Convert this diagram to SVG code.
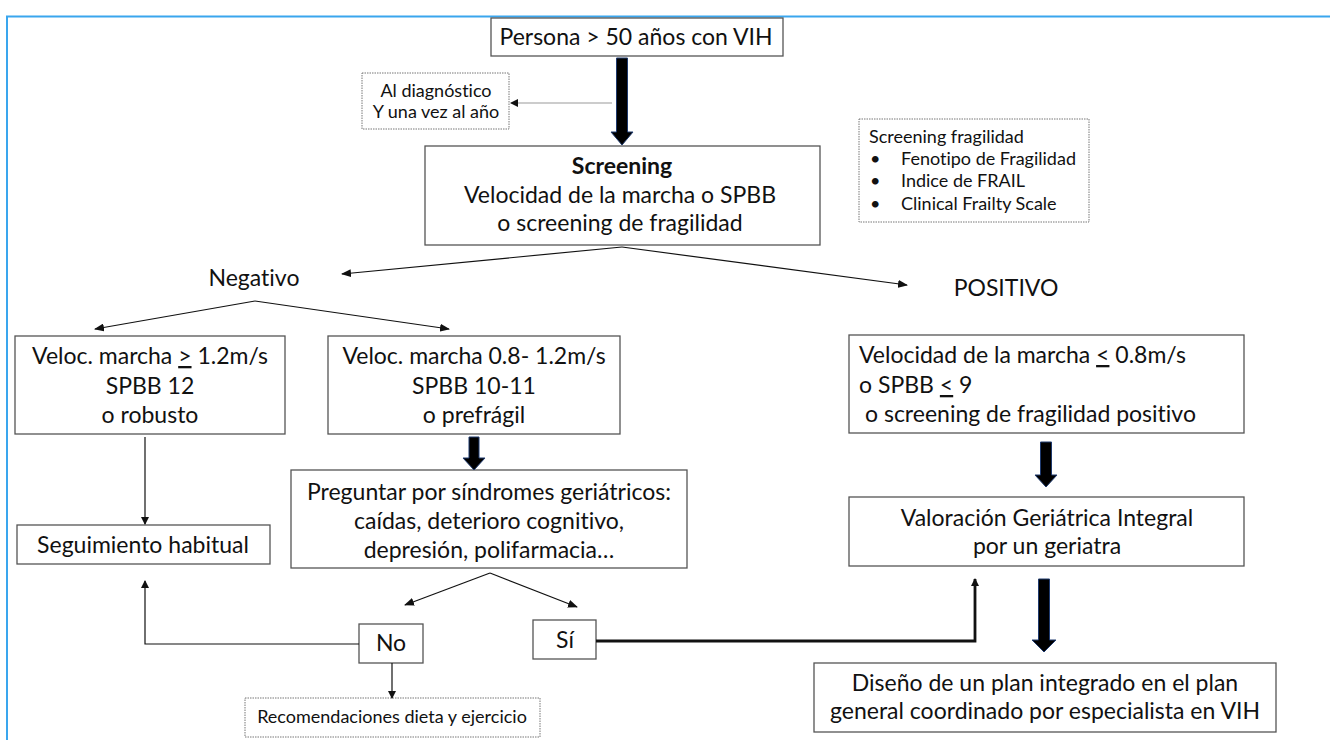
<svg xmlns="http://www.w3.org/2000/svg" width="1330" height="740" viewBox="0 0 1330 740">
<style>
  .box { fill: #ffffff; stroke: #555555; stroke-width: 1.3; }
  .dot { fill: #ffffff; stroke: #777777; stroke-width: 1; stroke-dasharray: 1.5 1; }
  .t { font-family: Lato, "Liberation Sans", sans-serif; font-size: 23px; fill: #111111; font-variant-ligatures: none; }
  .s { font-family: Lato, "Liberation Sans", sans-serif; font-size: 18px; fill: #111111; font-variant-ligatures: none; }
  .c { text-anchor: middle; }
  .b { font-weight: bold; }
  .ln { fill: none; stroke: #111111; stroke-width: 1.2; }
  .thick { fill: #000000; stroke: #1f3a6e; stroke-width: 1; }
</style>
<defs>
  <marker id="ah" markerWidth="10" markerHeight="8" refX="9" refY="4" orient="auto" markerUnits="userSpaceOnUse">
    <path d="M0,0 L10,4 L0,8 Z" fill="#111111"/>
  </marker>
  <marker id="ahs" markerWidth="8" markerHeight="8" refX="7" refY="4" orient="auto" markerUnits="userSpaceOnUse">
    <path d="M0,0 L8,4 L0,8 Z" fill="#111111"/>
  </marker>
</defs>
<rect x="0" y="0" width="1330" height="740" fill="#ffffff"/>
<path d="M7 740 V16.5 H1330" fill="none" stroke="#3aa6ee" stroke-width="2"/>

<g id="n-persona">
  <rect class="box" x="491" y="18" width="292" height="38"/>
  <text class="t c" x="636" y="45">Persona &gt; 50 años con VIH</text>
</g>
<g id="n-aldiag">
  <rect class="dot" x="362" y="73" width="147" height="56"/>
  <text class="s c" x="436" y="97">Al diagnóstico</text>
  <text class="s c" x="436" y="118">Y una vez al año</text>
</g>
<g id="n-screening">
  <rect class="box" x="425" y="146" width="395" height="99"/>
  <text class="t c b" x="622" y="174">Screening</text>
  <text class="t c" x="620" y="203">Velocidad de la marcha o SPBB</text>
  <text class="t c" x="620" y="231">o screening de fragilidad</text>
</g>
<g id="n-fragbox">
  <rect class="dot" x="859" y="119" width="230" height="103"/>
  <text class="s" x="869" y="143">Screening fragilidad</text>
  <text class="s" x="870" y="165">•</text>
  <text class="s" x="901" y="165">Fenotipo de Fragilidad</text>
  <text class="s" x="870" y="187">•</text>
  <text class="s" x="901" y="187">Indice de FRAIL</text>
  <text class="s" x="870" y="210">•</text>
  <text class="s" x="901" y="210">Clinical Frailty Scale</text>
</g>
<g id="n-negativo">
  <text class="t c" x="254" y="286">Negativo</text>
</g>
<g id="n-positivo">
  <text class="t c" x="1006" y="296">POSITIVO</text>
</g>
<g id="n-robusto">
  <rect class="box" x="15" y="336" width="270" height="98"/>
  <text class="t c" x="150" y="364">Veloc. marcha <tspan text-decoration="underline">&gt;</tspan> 1.2m/s</text>
  <text class="t c" x="150" y="394">SPBB 12</text>
  <text class="t c" x="150" y="423">o robusto</text>
</g>
<g id="n-prefragil">
  <rect class="box" x="328" y="336" width="292" height="98"/>
  <text class="t c" x="474" y="364">Veloc. marcha 0.8- 1.2m/s</text>
  <text class="t c" x="474" y="394">SPBB 10-11</text>
  <text class="t c" x="474" y="423">o prefrágil</text>
</g>
<g id="n-fragil">
  <rect class="box" x="849" y="335" width="395" height="98"/>
  <text class="t" x="859" y="363">Velocidad de la marcha <tspan text-decoration="underline">&lt;</tspan> 0.8m/s</text>
  <text class="t" x="859" y="393">o SPBB <tspan text-decoration="underline">&lt;</tspan> 9</text>
  <text class="t" x="865" y="422">o screening de fragilidad positivo</text>
</g>
<g id="n-seguimiento">
  <rect class="box" x="17" y="525" width="253" height="39"/>
  <text class="t c" x="143" y="553">Seguimiento habitual</text>
</g>
<g id="n-preguntar">
  <rect class="box" x="291" y="470" width="396" height="98"/>
  <text class="t c" x="489" y="500">Preguntar por síndromes geriátricos:</text>
  <text class="t c" x="489" y="529">caídas, deterioro cognitivo,</text>
  <text class="t c" x="489" y="558">depresión, polifarmacia…</text>
</g>
<g id="n-valoracion">
  <rect class="box" x="849" y="497" width="395" height="69"/>
  <text class="t c" x="1047" y="526">Valoración Geriátrica Integral</text>
  <text class="t c" x="1047" y="554">por un geriatra</text>
</g>
<g id="n-no">
  <rect class="box" x="359" y="624" width="64" height="39"/>
  <text class="t c" x="391" y="651">No</text>
</g>
<g id="n-si">
  <rect class="box" x="533" y="620" width="63" height="39"/>
  <text class="t c" x="565" y="648">Sí</text>
</g>
<g id="n-recom">
  <rect class="dot" x="245" y="698" width="295" height="39"/>
  <text class="s c" x="392" y="723">Recomendaciones dieta y ejercicio</text>
</g>
<g id="n-diseno">
  <rect class="box" x="814" y="663" width="462" height="69"/>
  <text class="t c" x="1045" y="691">Diseño de un plan integrado en el plan</text>
  <text class="t c" x="1045" y="719">general coordinado por especialista en VIH</text>
</g>

<g id="connectors">
  <path class="thick" d="M616.5 58 H627.5 V132 H633 L622 145 L611 132 H616.5 Z"/>
  <path class="thick" d="M469 437 H479 V458 H485 L474 470 L463 458 H469 Z"/>
  <path class="thick" d="M1040.5 442 H1051.5 V475 H1057 L1046 487 L1035 475 H1040.5 Z"/>
  <path class="thick" d="M1038.5 579 H1049.5 V640 H1056 L1044 652 L1032 640 H1038.5 Z"/>
  <path d="M612 103 H511" fill="none" stroke="#999999" stroke-width="1" marker-end="url(#ahs)"/>
  <path class="ln" d="M622 247 L342 274" marker-end="url(#ah)"/>
  <path class="ln" d="M622 247 L907 285" marker-end="url(#ah)"/>
  <path class="ln" d="M255 301 L95 329" marker-end="url(#ah)"/>
  <path class="ln" d="M255 301 L449 329" marker-end="url(#ah)"/>
  <path class="ln" d="M145 437 V524" marker-end="url(#ahs)"/>
  <path class="ln" d="M359 644 H145 V581" marker-end="url(#ahs)"/>
  <path class="ln" d="M490 573 L405 605" marker-end="url(#ah)"/>
  <path class="ln" d="M490 573 L577 607" marker-end="url(#ah)"/>
  <path class="ln" d="M392 663 V698" marker-end="url(#ahs)"/>
  <path d="M596 641 H975 V579" fill="none" stroke="#111111" stroke-width="2.8" marker-end="url(#ahs)"/>
</g>
</svg>
